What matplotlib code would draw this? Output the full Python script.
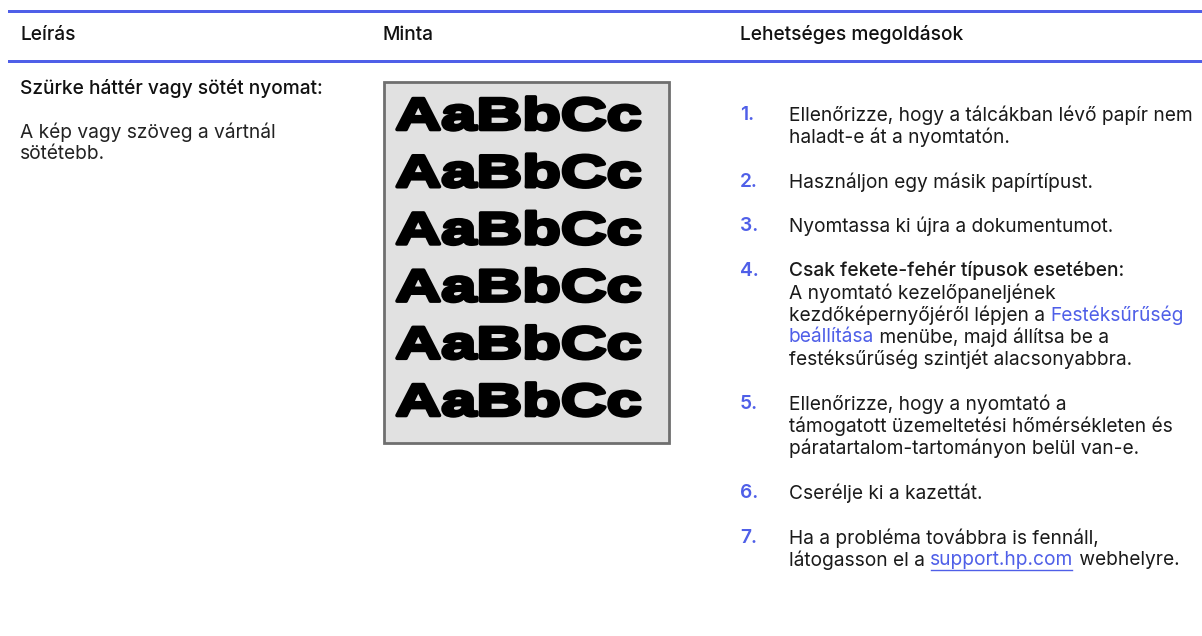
import matplotlib
matplotlib.use("Agg")
import matplotlib.pyplot as plt
from matplotlib.patches import Rectangle, PathPatch
from matplotlib.textpath import TextPath
from matplotlib.font_manager import FontProperties
from matplotlib.transforms import Affine2D

W, H = 1202, 636
BLUE = "#4F5FE8"
FONT = "Inter"
FS = 13.8

headers = ["Leírás", "Minta", "Lehetséges megoldások"]
desc_title = "Szürke háttér vagy sötét nyomat:"
desc_lines = ["A kép vagy szöveg a vártnál", "sötétebb."]
sample_text = "AaBbCc"
sample_count = 6
# each item: list of lines; each line: list of (text, style) where style in n,b,l,u
items = [
    [[("Ellenőrizze, hogy a tálcákban lévő papír nem", "n")], [("haladt-e át a nyomtatón.", "n")]],
    [[("Használjon egy másik papírtípust.", "n")]],
    [[("Nyomtassa ki újra a dokumentumot.", "n")]],
    [[("Csak fekete-fehér típusok esetében:", "b")],
     [("A nyomtató kezelőpaneljének", "n")],
     [("kezdőképernyőjéről lépjen a ", "n"), ("Festéksűrűség", "l")],
     [("beállítása", "l"), (" menübe, majd állítsa be a", "n")],
     [("festéksűrűség szintjét alacsonyabbra.", "n")]],
    [[("Ellenőrizze, hogy a nyomtató a", "n")],
     [("támogatott üzemeltetési hőmérsékleten és", "n")],
     [("páratartalom-tartományon belül van-e.", "n")]],
    [[("Cserélje ki a kazettát.", "n")]],
    [[("Ha a probléma továbbra is fennáll,", "n")],
     [("látogasson el a ", "n"), ("support.hp.com", "u"), (" webhelyre.", "n")]],
]

fig = plt.figure(figsize=(W / 100, H / 100), dpi=100)
ax = fig.add_axes([0, 0, 1, 1])
ax.set_xlim(0, W)
ax.set_ylim(H, 0)
ax.axis("off")

# table rules
ax.add_patch(Rectangle((8, 10), W - 8, 3, color=BLUE, lw=0))
ax.add_patch(Rectangle((8, 60), W - 8, 3, color=BLUE, lw=0))

col_x = [20, 383, 740]
for x, h in zip(col_x, headers):
    ax.text(x, 35, h, fontsize=FS, family=FONT, weight="medium", va="center", ha="left", color="#111")

ax.text(20, 88, desc_title, fontsize=FS, family=FONT, weight="medium", va="center", color="#111")
for i, l in enumerate(desc_lines):
    ax.text(20, 132 + i * 22, l, fontsize=FS, family=FONT, va="center", color="#222")

# sample box
ax.add_patch(Rectangle((383.5, 82), 285, 361, facecolor="#e1e1e1", edgecolor="#6f6f6f", lw=2))
tp = TextPath((0, 0), sample_text, size=1, prop=FontProperties(family="Liberation Sans", weight="bold"))
ext = tp.get_extents()
sx = 243 / ext.width
sy = 33 / ext.height
for i in range(sample_count):
    baseline = 129.5 + i * 57.2
    tr = Affine2D().translate(-ext.x0, 0).scale(sx, -sy).translate(397, baseline)
    ax.add_patch(PathPatch(tr.transform_path(tp), facecolor="black", edgecolor="black",
                           lw=2.6, joinstyle="round"))

fig.canvas.draw()
renderer = fig.canvas.get_renderer()


def draw_line(x, y, segs):
    for txt, st in segs:
        color = BLUE if st in ("l", "u") else "#1a1a1a"
        weight = "medium" if st == "b" else "normal"
        t = ax.text(x, y, txt, fontsize=FS, family=FONT, weight=weight, va="center", ha="left", color=color)
        bb = t.get_window_extent(renderer)
        wpx = bb.width
        if st == "u":
            ax.plot([x + 1, x + wpx - 2], [y + 10, y + 10], color=BLUE, lw=1)
        x += wpx


item_y = [115, 182, 226, 271, 404, 493, 538]
for n, (y0, lines) in enumerate(zip(item_y, items), start=1):
    ax.text(740, y0, f"{n}.", fontsize=FS, family=FONT, weight="semibold", va="center", color=BLUE)
    for j, segs in enumerate(lines):
        draw_line(789, y0 + j * 22, segs)

fig.savefig("out.png", dpi=100)
